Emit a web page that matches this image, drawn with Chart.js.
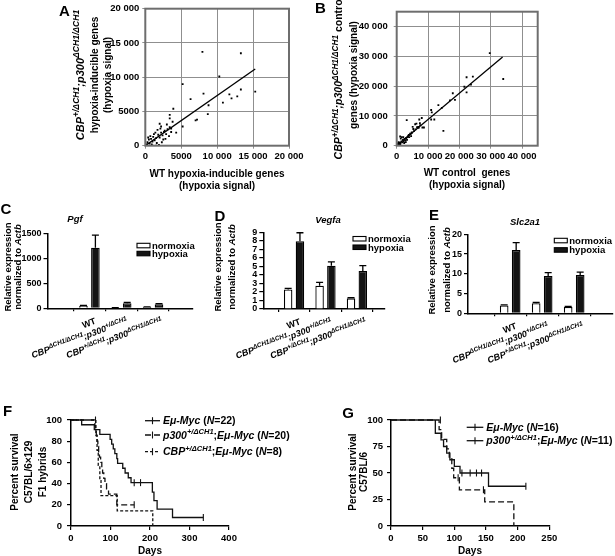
<!DOCTYPE html>
<html><head><meta charset="utf-8">
<script src="https://cdn.jsdelivr.net/npm/chart.js@4.4.1/dist/chart.umd.min.js"></script>
<style>
html,body{margin:0;padding:0;background:#fff}
#fig{position:relative;width:615px;height:556px;overflow:hidden;background:#fff}
#fig canvas{position:absolute;left:0;top:0}
</style>
</head><body><div id="fig"></div>
<script>
// ================= DATA =================
// Panel A: hypoxia-inducible genes (hypoxia signal)
const aWT  = [7950,13300,10300,5200,6300,8100,8800,8700,7200,7000,10800,11700,12000,12800,13300,15300,5200,3900,3400,3400,3800,4300,3600,2000,2200,
              300,500,600,800,1000,1100,1300,1500,1600,1800,2000,2200,2400,2500,2700,2900,3100,3300,900,1900,200,1200,2100,3600,2800,1400,700,2300,3000,1700,400,1000,1500,2600,3400];
const aMut = [13700,13500,10100,9000,6800,7600,5900,4600,3800,3700,6300,7500,6900,7200,8200,7900,2800,5400,4500,4000,3500,1900,2500,3200,2800,
              500,900,300,1000,600,1300,800,1100,400,1600,1200,1900,1500,900,2200,1700,2400,1400,200,100,200,1700,2500,2000,1000,1900,1400,500,3100,2300,1200,0,0,2000,2700];
const aFitX = [0, 15300];
const aFitY = [0, 11200];
const aTicks = [0, 5000, 10000, 15000, 20000];

// Panel B: control genes (hypoxia signal)
const bWT  = [29700,34000,22300,24300,21600,22300,23700,17900,18600,17000,13300,14400,14900,11000,11200,11000,12000,3200,7200,8000,5900,6900,8700,5300,4800,3700,4300,2100,1100,2700,
              300,500,800,1000,1200,1500,1800,2000,2200,2500,2800,3000,3300,3600,1300,1600,600,2400,3900,4400,4000,4800,5500,6000,6500,7000,7500,8200,5100,6300,7400,2900,1100,200,3400,4600];
const bMut = [31100,22400,23000,23200,19800,17900,20500,17600,15400,15200,13600,12700,5000,12000,11200,8800,8800,8600,8800,9300,7200,6300,6100,5600,4500,3400,4000,2900,3100,1800,
              200,600,400,1000,700,1400,1100,2000,1500,2300,1800,2600,2000,3000,2400,2900,1200,900,3600,3800,2900,4300,4900,5500,6200,6000,6900,6100,6300,7400,7600,1200,300,800,2900,3200];
const bFitX = [0, 33800];
const bFitY = [0, 29800];
const bTicks = [0, 10000, 20000, 30000, 40000];

// Panels C-E: qPCR, relative expression normalized to Actb
const barCategories = ['WT', '_CBP^ΔCH1/ΔCH1^;p300^+/ΔCH1^_', '_CBP^+/ΔCH1^;p300^ΔCH1/ΔCH1^_'];
const barSeries = ['normoxia', 'hypoxia'];
const pgfNorm  = [52, 12, 26];     const pgfNormErr  = [8, 3, 4];
const pgfHyp   = [1210, 100, 80];  const pgfHypErr   = [255, 20, 12];
const pgfTicks = [0, 500, 1000, 1500];
const vegfaNorm = [2.3, 2.74, 1.25]; const vegfaNormErr = [0.12, 0.38, 0.08];
const vegfaHyp  = [7.95, 5.08, 4.46]; const vegfaHypErr = [1.0, 0.45, 0.62];
const vegfaTicks = [0, 1, 2, 3, 4, 5, 6, 7, 8, 9];
const slcNorm = [2.0, 2.53, 1.6];  const slcNormErr = [0.15, 0.25, 0.12];
const slcHyp  = [16.0, 9.45, 9.7]; const slcHypErr  = [1.9, 0.85, 0.7];
const slcTicks = [0, 5, 10, 15, 20];

// Panel F: survival, C57BL/6x129 F1 hybrids
const fSeries = ['_Eμ-Myc_ (_N_=22)', '_p300^+/ΔCH1^_;_Eμ-Myc_ (_N_=20)', '_CBP^+/ΔCH1^_;_Eμ-Myc_ (_N_=8)'];
const fMycT  = [0,27,59,73,99,103,107,111,116,118,131,137,145,152,206,210,218,257,335];
const fMycS  = [100,95.5,90.9,86.4,81.8,77.3,72.7,68.2,63.6,59.1,54.5,50,45.5,40.9,32,24,16,8,8];
const fMycCensT = [160,176,335];  const fMycCensS = [40.9,40.9,8];
const fP300T = [0,60,62,64,66,68,70,72,75,78,80,83,86,90,95,116,160];
const fP300S = [100,95,90,85,80,75,70,65,60,55,50,45,40,35,30,20,20];
const fP300CensT = [160];  const fP300CensS = [20];
const fCbpT = [0,63,66,69,73,76,117,207];
const fCbpS = [100,85.7,71.4,57.1,42.9,28.6,14.3,0];
const fCbpCensT = [62];  const fCbpCensS = [100];
const fXTicks = [0, 100, 200, 300, 400];
const fYTicks = [0, 20, 40, 60, 80, 100];

// Panel G: survival, C57BL/6
const gSeries = ['_Eμ-Myc_ (_N_=16)', '_p300^+/ΔCH1^_;_Eμ-Myc_ (_N_=11)'];
const gMycT = [0,70,79,83,88,93,100,109,154,213];
const gMycS = [100,87.5,81.25,75,68.75,62.5,56.25,50,37.5,37.5];
const gMycCensT = [112,125,135,143,213];  const gMycCensS = [50,50,50,50,37.5];
const gP300T = [0,76,80,88,92,96,99,108,148,194];
const gP300S = [100,90.9,81.8,72.7,63.6,54.5,45.5,34.1,22.7,0];
const gP300CensT = [78,106,146];  const gP300CensS = [100,45.5,34.1];
const gXTicks = [0, 50, 100, 150, 200, 250];
const gYTicks = [0, 25, 50, 75, 100];

// ================= SETUP =================
const W = 615, H = 556;
const FONT = '"Liberation Sans", Arial, Helvetica, sans-serif';
Chart.defaults.font.family = FONT;
Chart.defaults.font.weight = 'bold';
Chart.defaults.color = '#000';
Chart.defaults.animation = false;
Chart.defaults.plugins.legend.display = false;
Chart.defaults.plugins.tooltip.enabled = false;

function newCanvas() {
  const c = document.createElement('canvas');
  c.width = W; c.height = H;
  document.getElementById('fig').appendChild(c);
  return c;
}
const YW = 44, XH = 24;
function pad(a) { return {left: Math.max(0, a.l - YW), top: a.t, right: W - a.r, bottom: H - a.b - XH}; }
const fitY = s => { s.width = YW; };
const fitX = s => { s.height = XH; };
const pts = (xs, ys) => xs.map((x, i) => ({x: x, y: ys[i]}));
const setTicks = list => (s => { s.ticks = list.map(v => ({value: v})); });
const plain = v => String(v);

// ---- rich text: _ toggles italic, ^ toggles superscript ----
function parseRich(s) {
  const segs = []; let it = false, sup = false, buf = '';
  for (const ch of s) {
    if (ch === '_' || ch === '^') {
      if (buf) segs.push({t: buf, it: it, sup: sup});
      buf = '';
      if (ch === '_') it = !it; else sup = !sup;
    } else buf += ch;
  }
  if (buf) segs.push({t: buf, it: it, sup: sup});
  return segs;
}
function drawRich(ctx, s, x, y, o) {
  o = o || {};
  const size = o.size || 10, sc = o.supScale || 0.78, rise = o.supRise || 0.42;
  const segs = parseRich(s);
  const fontOf = g => (g.it ? 'italic ' : '') + 'bold ' + (g.sup ? size * sc : size) + 'px ' + FONT;
  let w = 0;
  for (const g of segs) { ctx.font = fontOf(g); g.w = ctx.measureText(g.t).width; w += g.w; }
  ctx.save();
  ctx.translate(x, y);
  if (o.rot) ctx.rotate(o.rot);
  let cx = o.align === 'left' ? 0 : (o.align === 'right' ? -w : -w / 2);
  ctx.fillStyle = o.color || '#000';
  ctx.textAlign = 'left';
  ctx.textBaseline = 'alphabetic';
  const base = size * 0.36;
  for (const g of segs) {
    ctx.font = fontOf(g);
    ctx.fillText(g.t, cx, g.sup ? base - size * rise : base);
    cx += g.w;
  }
  ctx.restore();
}
const ROT90 = -Math.PI / 2;
function textPlugin(fn) { return {id: 'txt', afterDraw(chart) { const ctx = chart.ctx; ctx.save(); fn(ctx, chart); ctx.restore(); }}; }

// ================= SCATTER PANELS (A, B) =================
function fmtNum(v) { return v >= 10000 ? String(v).replace(/\B(?=(\d{3})+(?!\d))/g, ' ') : String(v); }
function scatterChart(area, wt, mut, fitx, fity, max, ticks, yPadTick, drawTexts) {
  const axis = (pos, tpad) => ({
    type: 'linear', position: pos, min: 0, max: max,
    afterBuildTicks: setTicks(ticks),
    ticks: {autoSkip: false, font: {size: 9.5, weight: 'bold'}, padding: tpad, color: '#000', callback: fmtNum, maxRotation: 0},
    grid: {color: '#8f8f8f', lineWidth: 1, tickLength: 3, tickColor: '#8f8f8f'},
    border: {display: false},
    afterFit: pos === 'left' ? fitY : fitX
  });
  new Chart(newCanvas(), {
    type: 'scatter',
    data: {datasets: [
      {data: pts(wt, mut), pointStyle: 'rect', pointRadius: 1.3, backgroundColor: '#000', borderWidth: 0},
      {data: pts(fitx, fity), showLine: true, pointRadius: 0, borderColor: '#000', borderWidth: 1.3}
    ]},
    options: {
      responsive: false, devicePixelRatio: 1,
      layout: {padding: pad(area)},
      scales: {x: axis('bottom', 2), y: axis('left', yPadTick)}
    },
    plugins: [{id: 'frame', afterDatasetsDraw(chart) {
      const a = chart.chartArea, ctx = chart.ctx;
      ctx.save(); ctx.strokeStyle = '#6e6e6e'; ctx.lineWidth = 2;
      ctx.strokeRect(a.left, a.top, a.right - a.left, a.bottom - a.top);
      ctx.restore();
    }}, textPlugin(drawTexts)]
  });
}

scatterChart({l: 145.3, r: 289, t: 5, b: 145.7}, aWT, aMut, aFitX, aFitY, 20000, aTicks, 3, ctx => {
  drawRich(ctx, 'A', 64.5, 10.5, {size: 15});
  drawRich(ctx, '_CBP^+/ΔCH1^;p300^ΔCH1/ΔCH1^_', 80, 75, {size: 11, rot: ROT90});
  drawRich(ctx, 'hypoxia-inducible genes', 94, 75, {size: 10, rot: ROT90});
  drawRich(ctx, '(hypoxia signal)', 107.5, 75, {size: 10, rot: ROT90});
  drawRich(ctx, 'WT hypoxia-inducible genes', 217, 173, {size: 10});
  drawRich(ctx, '(hypoxia signal)', 217, 185, {size: 10});
});

scatterChart({l: 396.7, r: 537.7, t: 5, b: 145.7}, bWT, bMut, bFitX, bFitY, 45000, bTicks, 6, ctx => {
  drawRich(ctx, 'B', 320.5, 8, {size: 15});
  drawRich(ctx, '_CBP^+/ΔCH1^;p300^ΔCH1/ΔCH1^_ control', 338.5, 78, {size: 10.5, rot: ROT90});
  drawRich(ctx, 'genes (hypoxia signal)', 353.5, 75, {size: 10, rot: ROT90});
  drawRich(ctx, 'WT control  genes', 467, 172, {size: 10});
  drawRich(ctx, '(hypoxia signal)', 467, 184, {size: 10});
});

// ================= BAR PANELS (C, D, E) =================
const catLabelShift = [[0, 0], [0, 0], [3, 0]];
function barChart(area, xMin, xMax, norm, normErr, hyp, hypErr, yMax, yTicks, lg, drawTexts) {
  const ds = (vals, err, fill) => ({
    data: pts([1, 2, 3], vals), err: err,
    backgroundColor: fill, borderColor: '#000', borderWidth: 1.3,
    categoryPercentage: 0.75, barPercentage: 0.72
  });
  new Chart(newCanvas(), {
    type: 'bar',
    data: {datasets: [ds(norm, normErr, '#ffffff'), ds(hyp, hypErr, '#141414')]},
    options: {
      responsive: false, devicePixelRatio: 1,
      layout: {padding: pad(area)},
      scales: {
        x: {type: 'linear', min: xMin, max: xMax,
            afterBuildTicks: setTicks([1, 2, 3]),
            ticks: {display: false},
            grid: {drawOnChartArea: false, tickLength: 3, tickColor: '#000', lineWidth: 1.2},
            border: {color: '#000', width: 1.5},
            afterFit: fitX},
        y: {min: 0, max: yMax,
            afterBuildTicks: setTicks(yTicks),
            ticks: {autoSkip: false, font: {size: 9, weight: 'bold'}, padding: 2, color: '#000', callback: plain},
            grid: {drawOnChartArea: false, tickLength: 4, tickColor: '#000', lineWidth: 1.2},
            border: {color: '#000', width: 1.5},
            afterFit: fitY}
      }
    },
    plugins: [{id: 'errbars', afterDatasetsDraw(chart) {
      const ctx = chart.ctx, ys = chart.scales.y;
      ctx.save(); ctx.strokeStyle = '#000'; ctx.lineWidth = 1.3;
      chart.data.datasets.forEach((d, i) => {
        chart.getDatasetMeta(i).data.forEach((bar, j) => {
          const top = ys.getPixelForValue(d.data[j].y + d.err[j]);
          ctx.beginPath();
          ctx.moveTo(bar.x, bar.y); ctx.lineTo(bar.x, top);
          ctx.moveTo(bar.x - 3.5, top); ctx.lineTo(bar.x + 3.5, top);
          ctx.stroke();
        });
      });
      ctx.restore();
    }}, textPlugin((ctx, chart) => {
      // rotated category labels, right end near each tick
      const xs = chart.scales.x, ay = chart.chartArea.bottom;
      barCategories.forEach((c, i) => {
        const px = xs.getPixelForValue(i + 1);
        drawRich(ctx, c, px + 6 + catLabelShift[i][0], ay + 12 + catLabelShift[i][1],
                 {size: 9, align: 'right', rot: -20 * Math.PI / 180, supScale: 0.72, supRise: 0.38});
      });
      // legend
      ctx.lineWidth = 1.1; ctx.strokeStyle = '#000';
      ctx.fillStyle = '#fff'; ctx.fillRect(lg.x, lg.y, 13, 4.5); ctx.strokeRect(lg.x, lg.y, 13, 4.5);
      ctx.fillStyle = '#141414'; ctx.fillRect(lg.x, lg.y + lg.dy, 13, 4.5); ctx.strokeRect(lg.x, lg.y + lg.dy, 13, 4.5);
      drawRich(ctx, barSeries[0], lg.x + 15, lg.y + 2.2, {size: 9.5, align: 'left'});
      drawRich(ctx, barSeries[1], lg.x + 15, lg.y + lg.dy + 2.2, {size: 9.5, align: 'left'});
      drawTexts(ctx);
    })]
  });
}

barChart({l: 47.5, r: 193, t: 233.3, b: 308.3}, 0.444, 3.494, pgfNorm, pgfNormErr, pgfHyp, pgfHypErr, 1500, pgfTicks,
  {x: 137, y: 243.3, dy: 8}, ctx => {
  drawRich(ctx, 'C', 6, 209, {size: 15});
  drawRich(ctx, '_Pgf_', 75, 219, {size: 9.5});
  drawRich(ctx, 'Relative expression', 7.3, 267, {size: 9.5, rot: ROT90});
  drawRich(ctx, 'normalized to _Actb_', 17.5, 267, {size: 9.5, rot: ROT90});
});

barChart({l: 263.3, r: 385, t: 232.3, b: 309}, 0.667, 3.248, vegfaNorm, vegfaNormErr, vegfaHyp, vegfaHypErr, 9, vegfaTicks,
  {x: 353, y: 236.5, dy: 8.5}, ctx => {
  drawRich(ctx, 'D', 220, 215.5, {size: 15});
  drawRich(ctx, '_Vegfa_', 328, 220, {size: 9.5});
  drawRich(ctx, 'Relative expression', 218, 267, {size: 9.5, rot: ROT90});
  drawRich(ctx, 'normalized to _Actb_', 231.7, 267, {size: 9.5, rot: ROT90});
});

barChart({l: 468, r: 613, t: 234.3, b: 313.3}, 0.4375, 3.458, slcNorm, slcNormErr, slcHyp, slcHypErr, 20, slcTicks,
  {x: 554.3, y: 238.3, dy: 9.4}, ctx => {
  drawRich(ctx, 'E', 434, 215, {size: 15});
  drawRich(ctx, '_Slc2a1_', 525, 221.7, {size: 9.5});
  drawRich(ctx, 'Relative expression', 432, 270, {size: 9.5, rot: ROT90});
  drawRich(ctx, 'normalized to _Actb_', 446.5, 270, {size: 9.5, rot: ROT90});
});

// ================= SURVIVAL PANELS (F, G) =================
function survivalChart(area, xMax, xTicks, yTicks, yTickPad, curves, legend, drawTexts) {
  const datasets = [];
  curves.forEach(c => {
    datasets.push({data: pts(c.t, c.s), showLine: true, stepped: true, pointRadius: 0,
                   borderColor: '#111', borderWidth: 1.3, borderDash: c.dash, clip: false});
    datasets.push({data: pts(c.ct, c.cs), showLine: false, pointStyle: 'line', rotation: 90, pointRadius: 3.5,
                   borderColor: '#111', borderWidth: 1.1, clip: false});
  });
  const axis = (pos, max, list, tpad) => ({
    type: 'linear', position: pos, min: 0, max: max,
    afterBuildTicks: setTicks(list),
    ticks: {autoSkip: false, font: {size: 9.5, weight: 'bold'}, padding: tpad, color: '#000', maxRotation: 0, callback: plain},
    grid: {drawOnChartArea: false, tickLength: 4, tickColor: '#000', lineWidth: 1.2},
    border: {color: '#000', width: 1.5},
    afterFit: pos === 'left' ? fitY : fitX
  });
  new Chart(newCanvas(), {
    type: 'scatter',
    data: {datasets: datasets},
    options: {
      responsive: false, devicePixelRatio: 1,
      layout: {padding: pad(area)},
      scales: {x: axis('bottom', xMax, xTicks, 3), y: axis('left', 100, yTicks, yTickPad)}
    },
    plugins: [textPlugin(ctx => {
      legend.rows.forEach((r, i) => {
        const y = legend.y[i];
        ctx.save();
        ctx.strokeStyle = '#111'; ctx.lineWidth = 1.3;
        ctx.setLineDash(r.dash);
        ctx.beginPath(); ctx.moveTo(legend.x0, y); ctx.lineTo(legend.x1, y); ctx.stroke();
        ctx.setLineDash([]); ctx.lineWidth = 1.1;
        const m = (legend.x0 + legend.x1) / 2;
        ctx.beginPath(); ctx.moveTo(m, y - 3.5); ctx.lineTo(m, y + 3.5); ctx.stroke();
        ctx.restore();
        drawRich(ctx, r.label, legend.x1 + 3, y, {size: 10.5, align: 'left', supScale: 0.72});
      });
      drawTexts(ctx);
    })]
  });
}

survivalChart({l: 71, r: 229, t: 420, b: 526}, 400, fXTicks, fYTicks, 5, [
    {t: fMycT, s: fMycS, ct: fMycCensT, cs: fMycCensS, dash: []},
    {t: fP300T, s: fP300S, ct: fP300CensT, cs: fP300CensS, dash: [6, 3]},
    {t: fCbpT, s: fCbpS, ct: fCbpCensT, cs: fCbpCensS, dash: [3, 2]}
  ],
  {x0: 145, x1: 160, y: [420.7, 435, 451.7], rows: [
    {label: fSeries[0], dash: []}, {label: fSeries[1], dash: [6, 3]}, {label: fSeries[2], dash: [3, 2]}]},
  ctx => {
    drawRich(ctx, 'F', 7.5, 411, {size: 15});
    drawRich(ctx, 'Percent survival', 14, 472, {size: 10, rot: ROT90});
    drawRich(ctx, 'C57BL/6×129', 28.5, 472, {size: 10, rot: ROT90});
    drawRich(ctx, 'F1 hybrids', 42.5, 472, {size: 10, rot: ROT90});
    drawRich(ctx, 'Days', 150, 550.5, {size: 10});
  });

survivalChart({l: 391, r: 549.3, t: 420, b: 526}, 250, gXTicks, gYTicks, 4, [
    {t: gMycT, s: gMycS, ct: gMycCensT, cs: gMycCensS, dash: []},
    {t: gP300T, s: gP300S, ct: gP300CensT, cs: gP300CensS, dash: [6, 3]}
  ],
  {x0: 466.7, x1: 483.3, y: [427.3, 440.7], rows: [
    {label: gSeries[0], dash: []}, {label: gSeries[1], dash: []}]},
  ctx => {
    drawRich(ctx, 'G', 348, 413, {size: 15});
    drawRich(ctx, 'Percent survival', 352, 472, {size: 10, rot: ROT90});
    drawRich(ctx, 'C57BL/6', 363.5, 472, {size: 10, rot: ROT90});
    drawRich(ctx, 'Days', 470, 550.5, {size: 10});
  });
</script>
</body></html>
